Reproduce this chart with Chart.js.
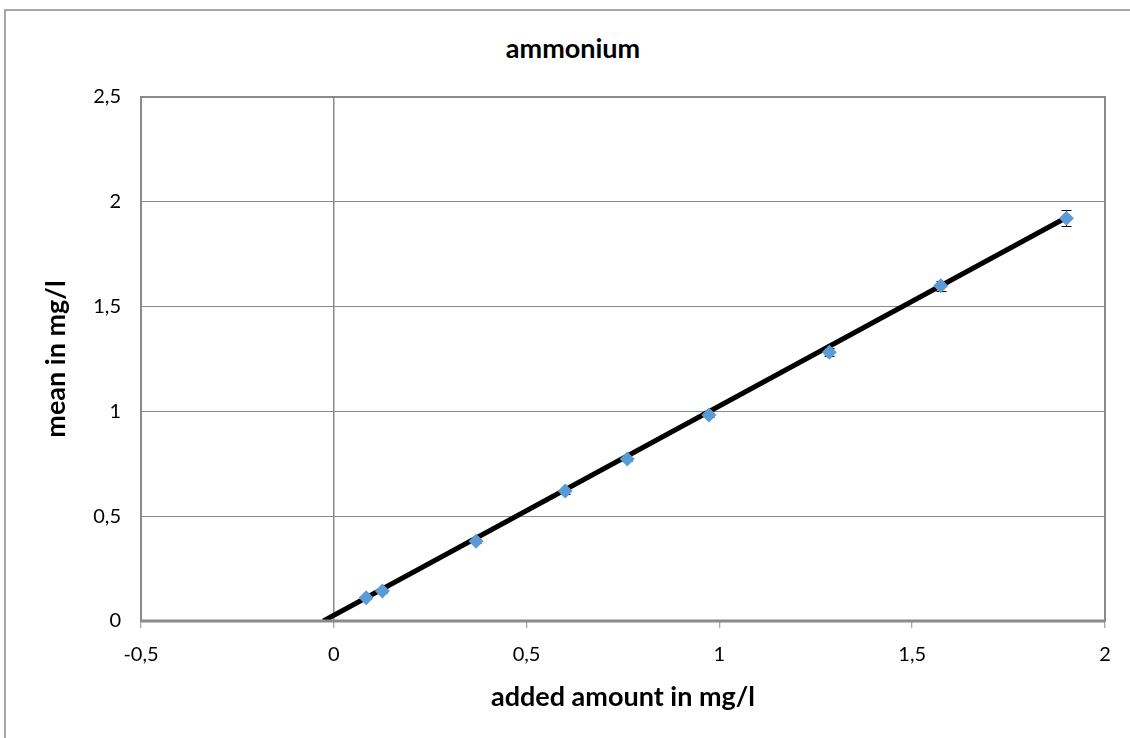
<!DOCTYPE html>
<html>
<head>
<meta charset="utf-8">
<script src="https://cdn.jsdelivr.net/npm/chart.js@4/dist/chart.umd.min.js"></script>
<style>
  html, body { margin: 0; padding: 0; background: #fff; overflow: hidden; width: 1130px; height: 738px; }
  #frame { position: absolute; left: 4px; top: 9px; width: 1150px; height: 740px; border: 2px solid #a6a6a6; }
  #chart { position: absolute; left: 0; top: 0; }
  #title { position: absolute; left: 0; top: 31px; width: 1146px; text-align: center;
           font-family: Lato, "Liberation Sans", sans-serif; font-weight: bold; font-size: 27px; color: #000; line-height: 34px; }
</style>
</head>
<body>
<div id="title">ammonium</div>
<div id="frame"><canvas id="chart" width="1150" height="740"></canvas></div>
<script>
// data
const addedAmount = [0.084, 0.126, 0.369, 0.600, 0.761, 0.973, 1.285, 1.574, 1.900];
const meanValue   = [0.111, 0.143, 0.380, 0.620, 0.773, 0.983, 1.282, 1.600, 1.921];
const errorValue  = [0.008, 0.008, 0.010, 0.012, 0.010, 0.010, 0.020, 0.024, 0.038];
const trendX = [-0.027, 1.900];
const trendY = [0.000, 1.925];
const xTicks = [-0.5, 0, 0.5, 1, 1.5, 2];
const yTicks = [0, 0.5, 1, 1.5, 2, 2.5];

const fmt = v => String(v).replace('.', ',');
const FONT = 'Lato, "Liberation Sans", sans-serif';
const GRID = '#8a8a8a';

const frameBorder = {
  id: 'frameBorder',
  afterDatasetsDraw(chart) {
    const {ctx, chartArea: a, scales: {x, y}} = chart;
    ctx.save();
    ctx.strokeStyle = GRID;
    ctx.lineWidth = 2;
    ctx.strokeRect(a.left, a.top, a.right - a.left, a.bottom - a.top);
    ctx.lineWidth = 3;
    ctx.beginPath();
    const yz = y.getPixelForValue(0);
    ctx.moveTo(a.left, yz); ctx.lineTo(a.right, yz);
    ctx.stroke();
    ctx.restore();
  }
};

const errorBars = {
  id: 'errorBars',
  afterDatasetDraw(chart, args) {
    if (args.index !== 1) return;
    const {ctx, scales: {x, y}} = chart;
    ctx.save();
    ctx.strokeStyle = '#000';
    ctx.lineWidth = 1;
    addedAmount.forEach((xv, i) => {
      const px = Math.round(x.getPixelForValue(xv)) + 0.5;
      const top = Math.round(y.getPixelForValue(meanValue[i] + errorValue[i])) + 0.5;
      const bot = Math.round(y.getPixelForValue(meanValue[i] - errorValue[i])) + 0.5;
      ctx.beginPath();
      ctx.moveTo(px, top); ctx.lineTo(px, bot);
      ctx.moveTo(px - 5, top); ctx.lineTo(px + 5, top);
      ctx.moveTo(px - 5, bot); ctx.lineTo(px + 5, bot);
      ctx.stroke();
    });
    ctx.restore();
  }
};

new Chart(document.getElementById('chart'), {
  type: 'scatter',
  data: {
    datasets: [
      {
        label: 'mean',
        data: addedAmount.map((v, i) => ({x: v, y: meanValue[i]})),
        pointStyle: 'rectRot',
        pointRadius: 7.5,
        backgroundColor: '#5b9bd5',
        borderColor: '#5b9bd5',
        borderWidth: 0,
        showLine: false,
        order: 1
      },
      {
        label: 'trend',
        type: 'line',
        data: trendX.map((v, i) => ({x: v, y: trendY[i]})),
        borderColor: '#000',
        borderWidth: 5,
        pointRadius: 0,
        fill: false,
        order: 2
      }
    ]
  },
  options: {
    responsive: false,
    devicePixelRatio: 1,
    animation: false,
    layout: { padding: { top: 86, right: 51, left: 0, bottom: 0 } },
    plugins: { legend: { display: false }, tooltip: { enabled: false }, title: { display: false } },
    scales: {
      x: {
        type: 'linear',
        min: -0.5, max: 2,
        afterBuildTicks: s => { s.ticks = xTicks.map(v => ({value: v})); },
        afterFit: s => { s.height = 130; },
        border: { display: false },
        grid: {
          color: c => (c.tick && c.tick.value === 0) ? GRID : 'rgba(0,0,0,0)',
          lineWidth: 1.5,
          drawTicks: true,
          tickLength: 7,
          tickColor: GRID,
          tickWidth: 1
        },
        ticks: { font: { family: FONT, size: 20 }, color: '#000', padding: 15, callback: v => fmt(v), maxRotation: 0 },
        title: { display: true, text: 'added amount in mg/l', color: '#000',
                 font: { family: FONT, size: 27, weight: 'bold' }, padding: { top: 0, bottom: 38 } }
      },
      y: {
        type: 'linear',
        min: 0, max: 2.5,
        afterBuildTicks: s => { s.ticks = yTicks.map(v => ({value: v})); },
        afterFit: s => { s.width = 135; },
        border: { display: false },
        grid: { color: GRID, lineWidth: 1, drawTicks: false },
        ticks: { font: { family: FONT, size: 20 }, color: '#000', padding: 20, callback: v => fmt(v) },
        title: { display: true, text: 'mean in mg/l', color: '#000',
                 font: { family: FONT, size: 27, weight: 'bold' }, padding: { top: 34, bottom: 0 } }
      }
    }
  },
  plugins: [errorBars, frameBorder]
});
</script>
</body>
</html>
